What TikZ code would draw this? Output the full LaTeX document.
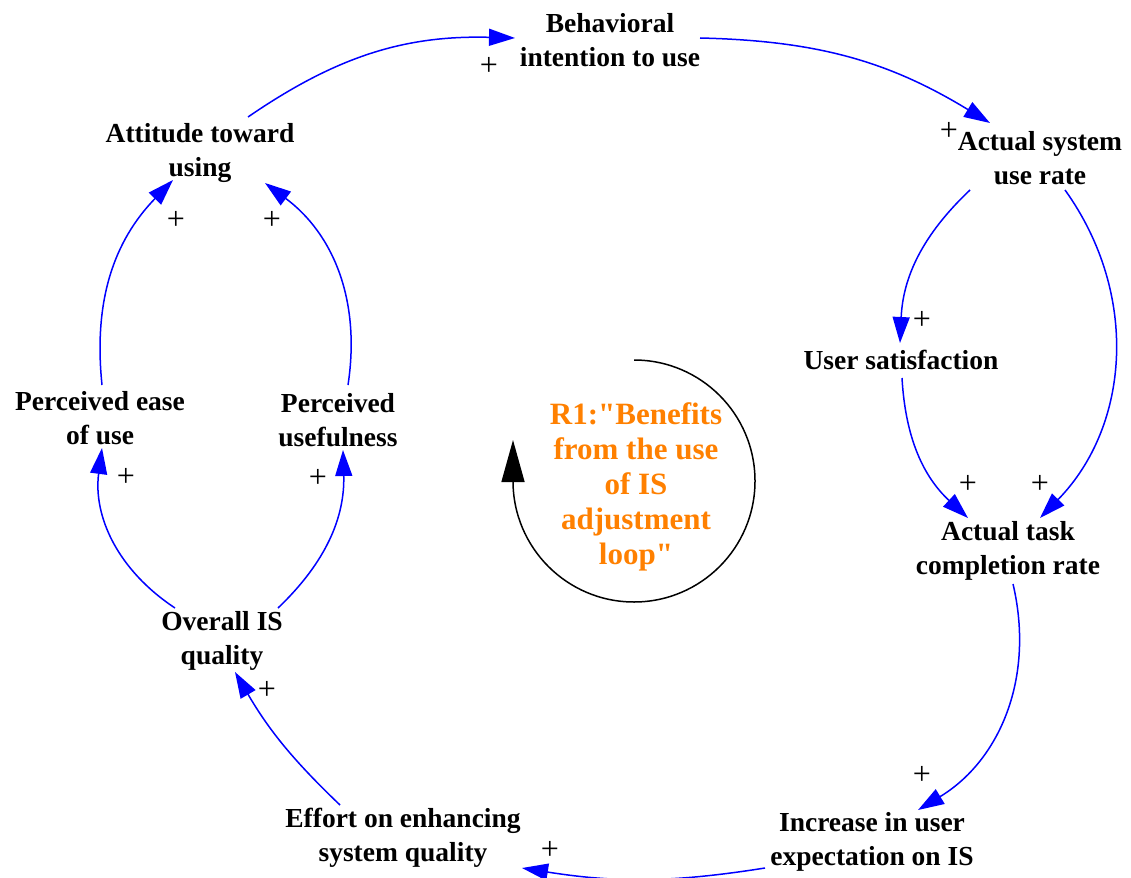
\documentclass[tikz,border=0pt]{standalone}
\usepackage{fontspec}
\setmainfont{Liberation Serif}[Ligatures=TeXOff]
\usetikzlibrary{arrows.meta}
\definecolor{loopora}{RGB}{255,128,0}
\begin{document}
\begin{tikzpicture}[x=1pt,y=-1pt,
  var/.style={align=center,inner sep=0pt,font=\bfseries\fontsize{27.5}{34.5}\selectfont},
  sign/.style={inner sep=0pt,font=\fontsize{32}{32}\selectfont},
  link/.style={draw=blue,line width=1.5pt,-{Triangle[length=26pt,width=17pt]}},
  vleft/.style={bend left=#1},
  vright/.style={bend right=#1}]
\useasboundingbox (0,0) rectangle (1131,877);

% variables
\node[var] (beh) at (610,40)  {Behavioral\\intention to use};
\node[var] (asu) at (1040,158) {Actual system\\use rate};
\node[var] (us)  at (901,360) {User satisfaction};
\node[var] (atc) at (1008,551) {Actual task\\completion rate};
\node[var] (inc) at (872,842) {Increase in user\\expectation on IS};
\node[var] (eff) at (403,838) {Effort on enhancing\\system quality};
\node[var] (ois) at (222,641) {Overall IS\\quality};
\node[var] (peu) at (100,418) {Perceived ease\\of use};
\node[var] (pu)  at (338,420) {Perceived\\usefulness};
\node[var] (att) at (200,153) {Attitude toward\\using};

% causal links
\draw[link] ([shift={(48,-36)}]att.center) to[vleft=18] ([shift={(-95,-2)}]beh.center);
\draw[link] ([shift={(90,-2)}]beh.center) to[vleft=15] ([shift={(-50,-35)}]asu.center);
\draw[link] ([shift={(-70,32)}]asu.center) to[vright=22] ([shift={(-1,-17)}]us.center);
\draw[link] ([shift={(25,32)}]asu.center) to[vleft=40] ([shift={(32,-33)}]atc.center);
\draw[link] ([shift={(1,18)}]us.center) to[vright=22] ([shift={(-40,-33)}]atc.center);
\draw[link] ([shift={(5,33)}]atc.center) to[vleft=36] ([shift={(46,-32)}]inc.center);
\draw[link] ([shift={(-107,26)}]inc.center) to[vleft=9] ([shift={(119,30)}]eff.center);
\draw[link] ([shift={(-63,-33)}]eff.center) to[vleft=8] ([shift={(13,31)}]ois.center);
\draw[link] ([shift={(-47,-33)}]ois.center) to[vleft=32] ([shift={(2,30)}]peu.center);
\draw[link] ([shift={(56,-33)}]ois.center) to[vright=24] ([shift={(5,30)}]pu.center);
\draw[link] ([shift={(2,-33)}]peu.center) to[vleft=25] ([shift={(-27,27)}]att.center);
\draw[link] ([shift={(10,-35)}]pu.center) to[vright=31] ([shift={(65,30)}]att.center);

% polarities
\node[sign] (p1)  at (489,66)  {+};
\node[sign] (p2)  at (949,131) {+};
\node[sign] (p3)  at (922,320) {+};
\node[sign] (p4)  at (1040,484) {+};
\node[sign] (p5)  at (968,484) {+};
\node[sign] (p6)  at (922,775) {+};
\node[sign] (p7)  at (550,850) {+};
\node[sign] (p8)  at (267,690) {+};
\node[sign] (p9)  at (126,477) {+};
\node[sign] (p10) at (318,478) {+};
\node[sign] (p11) at (176,220) {+};
\node[sign] (p12) at (272,220) {+};

% loop marker
\coordinate (lc) at (634,481);
\draw[line width=1.5pt,-{Triangle[length=42pt,width=23pt]}]
  ([shift={(-90:121)}]lc) arc[start angle=-90,end angle=180,radius=121] -- ++(0,-41);
\node[align=center,inner sep=0pt,text=loopora,font=\bfseries\fontsize{31}{35}\selectfont] (loop) at (636,487)
  {R1:"Benefits\\from the use\\of IS\\adjustment\\loop"};
\end{tikzpicture}
\end{document}
